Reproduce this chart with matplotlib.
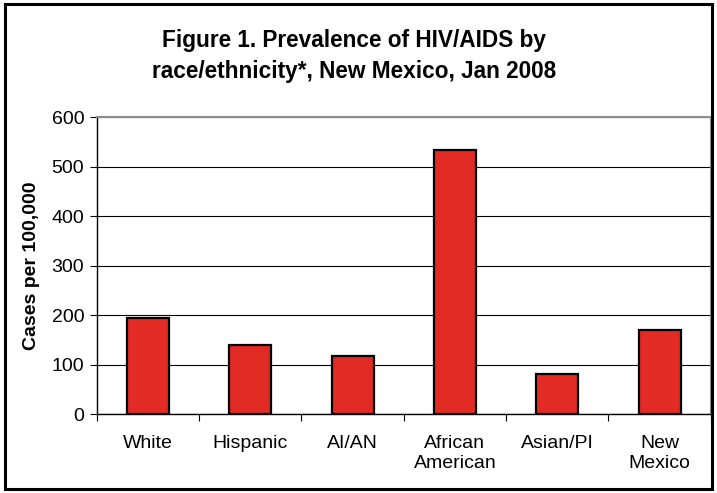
import numpy as np
import matplotlib
import matplotlib.pyplot as plt
from matplotlib.patches import Rectangle

matplotlib.use('Agg')

plt.rcParams['font.family'] = ['Liberation Sans', 'DejaVu Sans']

# Data
categories = ['White', 'Hispanic', 'AI/AN', 'African\nAmerican', 'Asian/PI', 'New\nMexico']
cases = [194, 141, 118, 534, 82, 170]
y_ticks = [0, 100, 200, 300, 400, 500, 600]

fig = plt.figure(figsize=(7.17, 4.93), dpi=100)
ax = fig.add_axes([96.7 / 717, 1 - 414.3 / 493, 614 / 717, 297 / 493])

x = np.arange(len(categories))
ax.bar(x, cases, width=0.41, color='#E32B26', edgecolor='black', linewidth=1.6, zorder=3)

ax.set_xlim(-0.5, len(categories) - 0.5)
ax.set_ylim(0, 600)
ax.set_yticks(y_ticks)
ax.set_yticklabels([str(v) for v in y_ticks], fontsize=14)
ax.yaxis.grid(True, color='black', linewidth=0.8, zorder=0)
ax.set_axisbelow(True)

# category labels centred, tick marks between categories
ax.set_xticks(x)
ax.set_xticklabels(categories, fontsize=14, linespacing=1.2)
ax.tick_params(axis='x', which='major', length=0, pad=15)
ax.set_xticks(np.arange(len(categories) + 1) - 0.5, minor=True)
ax.tick_params(axis='x', which='minor', length=5, width=0.8, direction='out')
ax.tick_params(axis='y', length=5, width=0.8, pad=4)

for side in ['top', 'right']:
    ax.spines[side].set_color('#8c8c8c')
    ax.spines[side].set_linewidth(1.5)
ax.spines['left'].set_linewidth(1.0)
ax.spines['bottom'].set_linewidth(1.0)

ax.set_ylabel('Cases per 100,000', fontsize=14, fontweight='bold', labelpad=8)

fig.text(0.494, 1 - 56 / 493, 'Figure 1. Prevalence of HIV/AIDS by\nrace/ethnicity*, New Mexico, Jan 2008',
         ha='center', va='center', fontsize=16.3, fontweight='bold', linespacing=1.45)

# outer frame
fig.patches.append(Rectangle((5 / 717, 4 / 493), 707 / 717, 485 / 493, transform=fig.transFigure,
                             fill=False, edgecolor='black', linewidth=2.2))

fig.savefig('out.png', dpi=100)
